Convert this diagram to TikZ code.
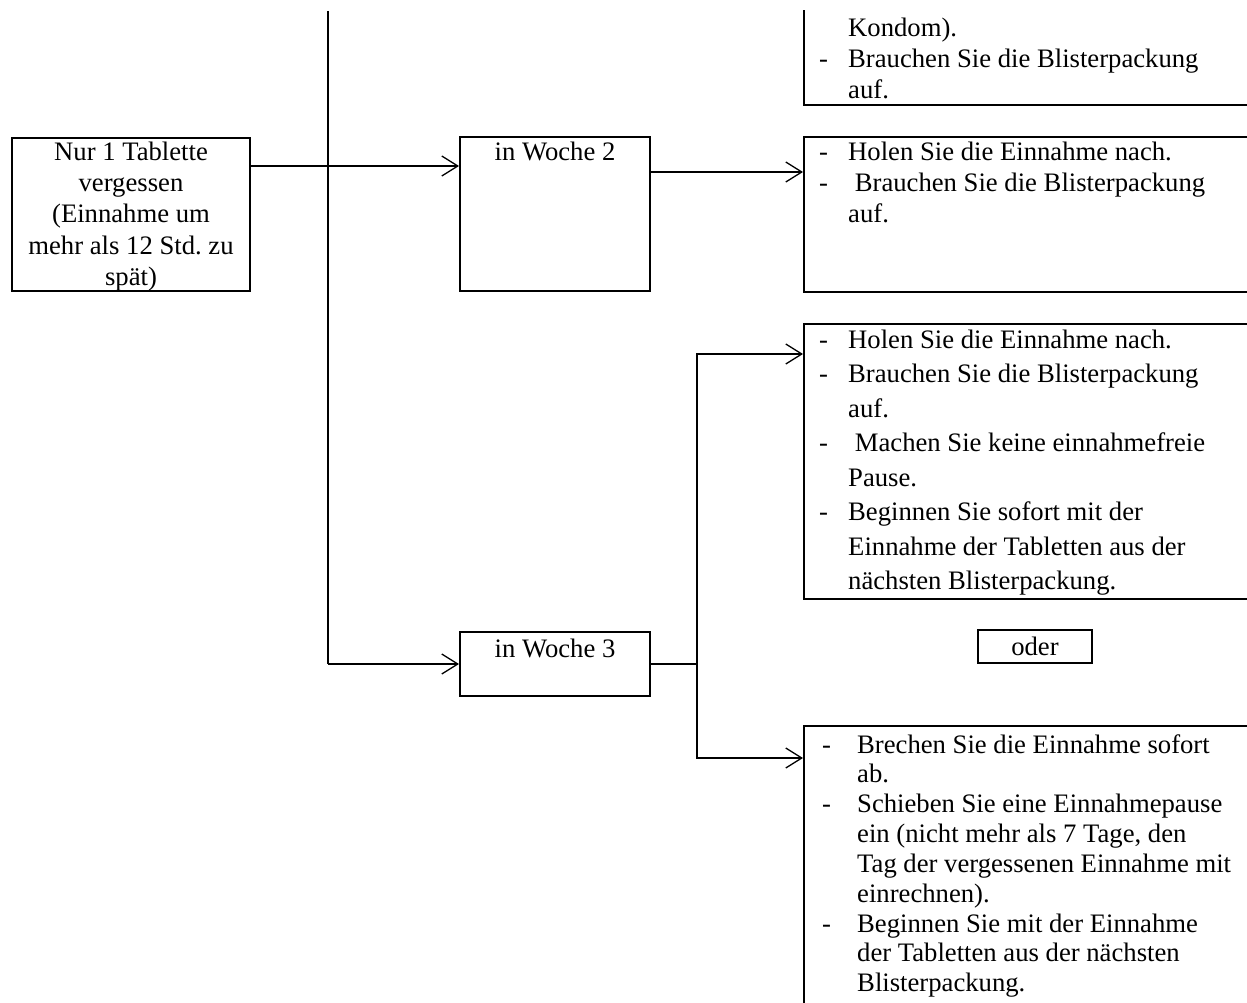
\documentclass[tikz,border=0pt]{standalone}
\usepackage{fontspec}
\setmainfont{Liberation Serif}
\usetikzlibrary{arrows.meta}
\frenchspacing
\newcommand{\bodyfont}{\fontsize{26.67pt}{31pt}\selectfont}
\newcommand{\dashlist}[2]{\begin{tabular}[t]{@{}p{#1}@{}l@{}}#2\end{tabular}}
\tikzset{box/.style={draw, line width=2pt, inner sep=0pt, anchor=north west},
  txt/.style={inner sep=0pt, anchor=base west},
  link/.style={line width=1.3pt, -{Straight Barb[length=16pt,width=20pt]}},
  trunk/.style={line width=2pt}}

\begin{document}
\begin{tikzpicture}[x=1pt, y=-1pt, font=\bodyfont]
    \useasboundingbox (0,0) rectangle (1247,1003);
    \clip (0,11) rectangle (1247,1003);
    \node[box, minimum width=238pt, minimum height=153pt] (tab) at (11,137) {};
    \node[box, minimum width=190pt, minimum height=154pt] (w2) at (459,136) {};
    \node[box, minimum width=190pt, minimum height=64pt] (w3) at (459,631) {};
    \node[box, minimum width=600pt, minimum height=304pt] (kondom) at (803,-200) {};
    \node[box, minimum width=600pt, minimum height=155pt] (catch) at (803,136) {};
    \node[box, minimum width=600pt, minimum height=275pt] (nopause) at (803,323) {};
    \node[box, minimum width=600pt, minimum height=400pt] (stop) at (803,725) {};
    \node[box, minimum width=114pt, minimum height=33pt] (oder) at (977,629) {oder};

    \node[inner sep=0pt, anchor=base] (tabtext) at ([shift={(0,24)}]tab.north)
        {\begin{tabular}[t]{@{}c@{}}Nur 1 Tablette\\vergessen\\(Einnahme um\\mehr als 12 Std. zu\\spät)\end{tabular}};
    \node[inner sep=0pt, anchor=base] (w2text) at ([shift={(0,25)}]w2.north) {in Woche 2};
    \node[inner sep=0pt, anchor=base] (w3text) at ([shift={(0,26)}]w3.north) {in Woche 3};
    \node[txt] (kondomtext) at ([shift={(16,-69)}]kondom.south west)
        {\dashlist{29pt}{& Kondom).\\- & Brauchen Sie die Blisterpackung\\& auf.}};
    \node[txt] (catchtext) at ([shift={(16,25)}]catch.north west)
        {\dashlist{29pt}{- & Holen Sie die Einnahme nach.\\- & \ Brauchen Sie die Blisterpackung\\& auf.}};
    \node[txt] (nopausetext) at ([shift={(16,25)}]nopause.north west)
        {\renewcommand{\arraystretch}{1.113}\dashlist{29pt}{- & Holen Sie die Einnahme nach.\\
        - & Brauchen Sie die Blisterpackung\\& auf.\\- & \ Machen Sie keine einnahmefreie\\& Pause.\\
        - & Beginnen Sie sofort mit der\\& Einnahme der Tabletten aus der\\& nächsten Blisterpackung.}};
    \node[txt] (stoptext) at ([shift={(19,28)}]stop.north west)
        {\renewcommand{\arraystretch}{0.963}\dashlist{35pt}{- & Brechen Sie die Einnahme sofort\\& ab.\\- & Schieben Sie eine Einnahmepause\\
        & ein (nicht mehr als 7 Tage, den\\& Tag der vergessenen Einnahme mit\\& einrechnen).\\
        - & Beginnen Sie mit der Einnahme\\& der Tabletten aus der nächsten\\& Blisterpackung.}};

    \coordinate (feed) at (328,11);
    \draw[trunk] (feed) -- (feed |- w3.west);
    \draw[link] (feed |- w3.west) -- (w3.west);
    \coordinate (tabout) at ([shift={(0,29)}]tab.north east);
    \draw[link] (tabout) -- (tabout -| w2.west);
    \coordinate (w2out) at ([shift={(0,36)}]w2.north east);
    \draw[link] (w2out) -- (w2out -| catch.west);
    \coordinate (fork) at ([shift={(46,0)}]w3.east);
    \draw[trunk] (w3.east) -- (fork);
    \draw[link] (fork) |- ([shift={(0,31)}]nopause.north west);
    \draw[link] (fork) |- ([shift={(0,33)}]stop.north west);
\end{tikzpicture}
\end{document}
